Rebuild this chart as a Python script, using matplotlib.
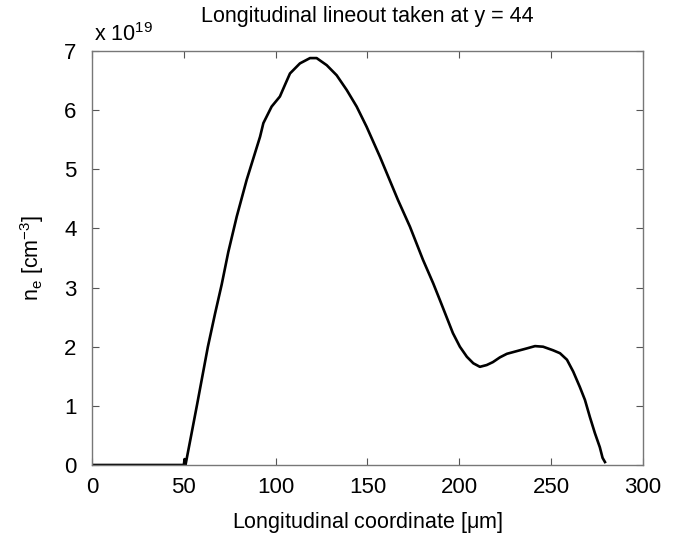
import numpy as np
import matplotlib
matplotlib.use("Agg")
import matplotlib.pyplot as plt

# Perfil longitudinal de densidad (valores en unidades de 1e19 cm^-3)
x_um = [0, 50.0, 50.4, 50.9, 54.0, 57.2, 63.1, 67.0, 70.6, 74.2, 78.8,
        84.2, 88.7, 91.5, 93.3, 97.8, 102.3, 105.1, 107.8, 113.2, 118.7,
        122.3, 127.8, 133.2, 138.7, 144.1, 149.5, 156.8, 166.6, 173.1,
        180.2, 185.8, 189.4, 196.5, 200.3, 204.1, 207.6, 211.2, 214.9,
        218.3, 222.1, 225.9, 233.0, 236.6, 241.2, 245.6, 251.0, 254.8,
        258.6, 262.0, 265.6, 268.4, 271.1, 273.8, 276.5, 278.0, 279.3]
ne = [0, 0, 0.1, 0.0, 0.5, 1.02, 2.0, 2.56, 3.05, 3.6, 4.20,
      4.82, 5.27, 5.55, 5.78, 6.06, 6.23, 6.43, 6.62, 6.79, 6.88,
      6.88, 6.76, 6.59, 6.34, 6.06, 5.72, 5.21, 4.48, 4.03,
      3.47, 3.07, 2.79, 2.23, 2.0, 1.83, 1.72, 1.66, 1.69,
      1.74, 1.82, 1.88, 1.94, 1.97, 2.01, 2.0, 1.94, 1.89,
      1.78, 1.58, 1.32, 1.10, 0.81, 0.54, 0.30, 0.12, 0.05]

x_ticks = [0, 50, 100, 150, 200, 250, 300]
y_ticks = [0, 1, 2, 3, 4, 5, 6, 7]

plt.rcParams['font.family'] = ['Liberation Sans', 'DejaVu Sans']
plt.rcParams['mathtext.fontset'] = 'custom'
plt.rcParams['mathtext.rm'] = 'Liberation Sans'
plt.rcParams['mathtext.it'] = 'Liberation Sans'

fig = plt.figure(figsize=(6.82, 5.39), dpi=100)
ax = fig.add_axes([0.1349, 0.1373, 0.9428 - 0.1349, 0.9054 - 0.1373])

ax.plot(x_um, ne, color='black', linewidth=1.9, solid_joinstyle='round')

ax.set_xlim(0, 300)
ax.set_ylim(0, 7)
ax.set_xticks(x_ticks)
ax.set_yticks(y_ticks)
ax.tick_params(direction='in', top=True, right=True, length=5, width=0.8,
               labelsize=16, colors='#555555', labelcolor='black')
ax.tick_params(axis='x', pad=9)
ax.tick_params(axis='y', pad=11)
for s in ax.spines.values():
    s.set_color('#777777')
    s.set_linewidth(1.0)

ax.set_title('Longitudinal lineout taken at y = 44', fontsize=15.5, pad=21)
ax.set_xlabel(r'Longitudinal coordinate [$\mathrm{\mu}$m]', fontsize=15.5, labelpad=8)
ax.set_ylabel(r'n$_\mathrm{e}$ [cm$^\mathrm{-3}$]', fontsize=15.5, labelpad=13)
ax.text(0.003, 1.012, r'x 10$^{19}$', transform=ax.transAxes, fontsize=15.5,
        ha='left', va='bottom')

fig.savefig('out.png', dpi=100)
